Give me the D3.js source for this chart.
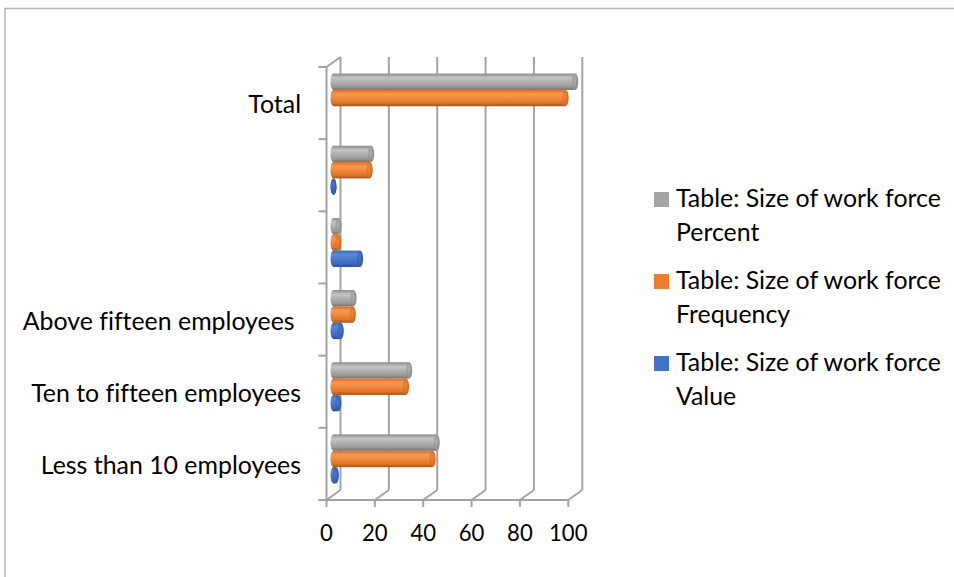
<!DOCTYPE html>
<html><head><meta charset="utf-8">
<script src="https://cdn.jsdelivr.net/npm/d3@7/dist/d3.min.js"></script>
<style>
body{margin:0;background:#fff}
svg{display:block}
text{font-family:Lato,"Open Sans",sans-serif;fill:#000;font-variant-ligatures:none;white-space:pre}
</style>
</head><body>
<svg id="chart" width="954" height="577"></svg>
<script>
// ---- data (bottom to top, as in the chart) ----
const categories = ["Less than 10 employees", "Ten to fifteen employees", "Above fifteen employees ", "", "", "Total"];
const percentValues = [42.7, 31.3, 8.3, 2.1, 15.6, 100];
const frequencyValues = [41, 30, 8, 2, 15, 96];
const valueValues = [1, 2, 3, 11, 0, null];
const seriesNames = ["Table: Size of work force Percent", "Table: Size of work force Frequency", "Table: Size of work force Value"];
const legendLines = [["Table: Size of work force", "Percent"], ["Table: Size of work force", "Frequency"], ["Table: Size of work force", "Value"]];
const xTicks = [0, 20, 40, 60, 80, 100];

const series = [
  {name: seriesNames[0], values: percentValues, base: "#a5a5a5", stops: ["#8a8a8a", "#c4c4c4", "#b2b2b2", "#9a9a9a", "#6f6f6f"], cap: "#858585"},
  {name: seriesNames[1], values: frequencyValues, base: "#ed7d31", stops: ["#d96d25", "#f7974f", "#f28a3d", "#de7429", "#a9531a"], cap: "#c3611f"},
  {name: seriesNames[2], values: valueValues, base: "#4472c4", stops: ["#3a66b6", "#5b8ad8", "#4a7acb", "#3d69bb", "#2a4f92"], cap: "#2d5498"}
];

const svg = d3.select("#chart");

// fit a font size so that a sample string gets a target width
function fitSize(sample, target) {
  const t = svg.append("text").attr("font-size", 20).text(sample);
  const w = t.node().getComputedTextLength();
  t.remove();
  return 20 * target / w;
}
const catSize = fitSize("Ten to fifteen employees", 270);
const tickSize = fitSize("100", 38.5);
const legSize = fitSize("Table: Size of work force", 265);

// outer border
svg.append("rect").attr("x", 5).attr("y", 8.5).attr("width", 1000).attr("height", 700)
  .attr("fill", "none").attr("stroke", "#b5b5b5").attr("stroke-width", 1.5);

// ---- 3D frame ----
const front = {left: 326.5, right: 568.3, top: 67, bottom: 500};
const dx = 14, dy = -10;
const x = d3.scaleLinear().domain([0, 100]).range([front.left, front.right]);
const idx = d3.range(categories.length).reverse(); // top to bottom
const y = d3.scaleBand().domain(idx).range([front.top, front.bottom]);

const grid = svg.append("g").attr("stroke", "#a3a3a3").attr("stroke-width", 2).attr("fill", "none");
// back wall gridlines
grid.selectAll(".bw").data(xTicks).join("line")
  .attr("x1", d => x(d) + dx).attr("x2", d => x(d) + dx)
  .attr("y1", front.top + dy).attr("y2", front.bottom + dy);
// floor diagonals
grid.selectAll(".fd").data(xTicks).join("line")
  .attr("x1", d => x(d)).attr("x2", d => x(d) + dx)
  .attr("y1", front.bottom).attr("y2", front.bottom + dy);
// left wall front edge and top diagonal
grid.append("line").attr("x1", front.left).attr("x2", front.left).attr("y1", front.top).attr("y2", front.bottom);
grid.append("line").attr("x1", front.left).attr("x2", front.left + dx).attr("y1", front.top).attr("y2", front.top + dy);
// front bottom axis line
grid.append("line").attr("x1", front.left - 8).attr("x2", front.right).attr("y1", front.bottom).attr("y2", front.bottom);
// bottom ticks
grid.selectAll(".bt").data(xTicks).join("line")
  .attr("x1", d => x(d)).attr("x2", d => x(d))
  .attr("y1", front.bottom).attr("y2", front.bottom + 7);
// left ticks at band boundaries
const bounds = idx.map(i => y(i)).concat([front.bottom]);
grid.selectAll(".lt").data(bounds).join("line")
  .attr("x1", front.left - 8).attr("x2", front.left)
  .attr("y1", d => d).attr("y2", d => d);

// tick labels
svg.append("g").selectAll("text").data(xTicks).join("text")
  .attr("x", d => x(d)).attr("y", 541).attr("text-anchor", "middle")
  .attr("font-size", tickSize).text(d => d);

// category labels
svg.append("g").selectAll("text").data(idx).join("text")
  .attr("x", 301).attr("y", i => y(i) + y.bandwidth() / 2 + 10).attr("text-anchor", "end")
  .attr("font-size", catSize).text(i => categories[i]);

// ---- gradients ----
const defs = svg.append("defs");
series.forEach((s, k) => {
  const g = defs.append("linearGradient").attr("id", "grad" + k).attr("x1", 0).attr("y1", 0).attr("x2", 0).attr("y2", 1);
  [0, 0.25, 0.5, 0.8, 1].forEach((o, j) => g.append("stop").attr("offset", o).attr("stop-color", s.stops[j]));
  const c = defs.append("radialGradient").attr("id", "cap" + k).attr("cx", 0.4).attr("cy", 0.4).attr("r", 0.7);
  c.append("stop").attr("offset", 0).attr("stop-color", s.stops[2]);
  c.append("stop").attr("offset", 1).attr("stop-color", s.cap);
});

// ---- cylinders ----
const groupH = y.bandwidth() * 0.68;
const inner = d3.scaleBand().domain(d3.range(series.length)).range([0, groupH]);
const bh = inner.bandwidth();
const rx = 3;
const bars = svg.append("g");
idx.forEach(i => {
  const gTop = y(i) + (y.bandwidth() - groupH) / 2 + dy / 2;
  series.forEach((s, k) => {
    const v = s.values[i];
    if (v === null || v === undefined) return;
    const x0 = x(0) + dx / 2, x1 = x(v) + dx / 2;
    const yt = gTop + inner(k), yc = yt + bh / 2;
    const g = bars.append("g");
    g.append("ellipse").attr("cx", x0).attr("cy", yc).attr("rx", rx).attr("ry", bh / 2).attr("fill", "url(#grad" + k + ")");
    g.append("rect").attr("x", x0).attr("y", yt).attr("width", Math.max(0, x1 - x0)).attr("height", bh).attr("fill", "url(#grad" + k + ")");
    g.append("ellipse").attr("cx", x1).attr("cy", yc).attr("rx", rx).attr("ry", bh / 2).attr("fill", "url(#cap" + k + ")");
  });
});

// ---- legend ----
const legY = [192, 274, 356];
const leg = svg.append("g");
series.forEach((s, k) => {
  leg.append("rect").attr("x", 654).attr("y", legY[k]).attr("width", 15).attr("height", 15).attr("fill", s.base);
  legendLines[k].forEach((ln, j) => {
    leg.append("text").attr("x", 676).attr("y", legY[k] + 15 + j * 33.5).attr("font-size", legSize).text(ln);
  });
});
</script>
</body></html>
